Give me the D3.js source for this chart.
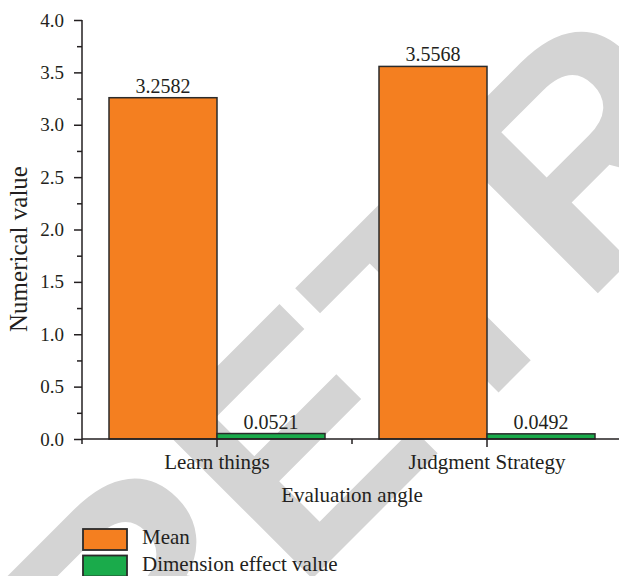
<!DOCTYPE html>
<html>
<head>
<meta charset="utf-8">
<script src="https://cdn.jsdelivr.net/npm/d3@7"></script>
<style>
  body { margin: 0; background: #fff; }
  svg text { font-family: "Liberation Serif", "Times New Roman", serif; fill: #231f20; }
</style>
</head>
<body>
<svg id="chart" width="619" height="576"></svg>
<script>
var categories = ["Learn things", "Judgment Strategy"];
var seriesNames = ["Mean", "Dimension effect value"];
var meanValues = [3.2582, 3.5568];
var effectValues = [0.0521, 0.0492];
var valueLabels = [["3.2582", "0.0521"], ["3.5568", "0.0492"]];
var yTicks = [0, 0.5, 1.0, 1.5, 2.0, 2.5, 3.0, 3.5, 4.0];
var yMinorTicks = [0.25, 0.75, 1.25, 1.75, 2.25, 2.75, 3.25, 3.75];
var colors = ["#f47f20", "#1aab4b"];

var svg = d3.select("#chart");
var plotLeft = 82, plotRight = 622, plotTop = 20, plotBottom = 439;

// watermark sits behind everything
svg.append("text")
  .attr("transform", "translate(136,755) rotate(-45)")
  .style("font-family", "'Liberation Sans', Arial, sans-serif")
  .style("font-weight", "bold")
  .style("font-size", "316px")
  .style("fill", "#d4d4d4")
  .text("RETRACTED");

var x = d3.scaleBand().domain(categories).range([plotLeft, plotRight]);
var xInner = d3.scaleBand().domain(seriesNames).range([0, x.bandwidth()]).paddingOuter(0.25);
var y = d3.scaleLinear().domain([0, 4]).range([plotBottom, plotTop]);

var rows = categories.map(function (c, i) {
  return { cat: c, values: [meanValues[i], effectValues[i]], labels: valueLabels[i] };
});

var groups = svg.selectAll("g.cat")
  .data(rows)
  .enter().append("g")
    .attr("class", "cat")
    .attr("transform", function (d) { return "translate(" + x(d.cat) + ",0)"; });

groups.selectAll("rect")
  .data(function (d) { return d.values.map(function (v, j) { return { s: seriesNames[j], v: v, j: j }; }); })
  .enter().append("rect")
    .attr("x", function (d) { return xInner(d.s); })
    .attr("y", function (d) { return y(d.v); })
    .attr("width", xInner.bandwidth())
    .attr("height", function (d) { return y(0) - y(d.v); })
    .attr("fill", function (d) { return colors[d.j]; })
    .attr("stroke", "#2b2b2b")
    .attr("stroke-width", 1.5);

groups.selectAll("text.val")
  .data(function (d) { return d.values.map(function (v, j) { return { s: seriesNames[j], v: v, t: d.labels[j] }; }); })
  .enter().append("text")
    .attr("class", "val")
    .attr("x", function (d) { return xInner(d.s) + xInner.bandwidth() / 2; })
    .attr("y", function (d) { return y(d.v) - 5; })
    .attr("text-anchor", "middle")
    .style("font-size", "20px")
    .text(function (d) { return d.t; });

// y axis
var gy = svg.append("g")
  .attr("transform", "translate(" + plotLeft + ",0)")
  .call(d3.axisLeft(y).tickValues(yTicks).tickFormat(d3.format(".1f")).tickSize(8).tickPadding(10));
gy.append("g")
  .call(d3.axisLeft(y).tickValues(yMinorTicks).tickSize(5).tickFormat(""))
  .select(".domain").remove();

// x axis
var centers = categories.map(function (c) { return x(c) + x.bandwidth() / 2; });
var edges = [plotLeft, plotLeft + x.bandwidth(), plotRight];
var gx = svg.append("g")
  .attr("transform", "translate(0," + plotBottom + ")");
gx.append("line")
  .attr("x1", plotLeft).attr("x2", plotRight)
  .attr("stroke", "#231f20").attr("stroke-width", 1.5);
gx.selectAll("line.major")
  .data(centers)
  .enter().append("line")
    .attr("x1", function (d) { return d; }).attr("x2", function (d) { return d; })
    .attr("y1", 0).attr("y2", 8)
    .attr("stroke", "#231f20").attr("stroke-width", 1.5);
gx.selectAll("line.minor")
  .data(edges)
  .enter().append("line")
    .attr("x1", function (d) { return d; }).attr("x2", function (d) { return d; })
    .attr("y1", 0).attr("y2", 5)
    .attr("stroke", "#231f20").attr("stroke-width", 1.5);
gx.selectAll("text.cat")
  .data(categories)
  .enter().append("text")
    .attr("x", function (d) { return x(d) + x.bandwidth() / 2; })
    .attr("y", 30)
    .attr("text-anchor", "middle")
    .style("font-size", "21px")
    .text(function (d) { return d; });

gy.selectAll("path, line").attr("stroke", "#231f20").attr("stroke-width", 1.5);
gy.selectAll(".domain").attr("d", "M0," + plotTop + "V" + plotBottom);
gy.selectAll("text").style("font-size", "19px").style("font-family", "'Liberation Serif', serif").attr("fill", "#231f20");

svg.append("text")
  .attr("x", (plotLeft + plotRight) / 2)
  .attr("y", 502)
  .attr("text-anchor", "middle")
  .style("font-size", "21px")
  .text("Evaluation angle");

svg.append("text")
  .attr("transform", "translate(27,249) rotate(-90)")
  .attr("text-anchor", "middle")
  .style("font-size", "25px")
  .text("Numerical value");

// legend
var legend = svg.selectAll("g.legend")
  .data(seriesNames)
  .enter().append("g")
    .attr("class", "legend")
    .attr("transform", function (d, i) { return "translate(83," + (529 + i * 26.5) + ")"; });
legend.append("rect")
  .attr("width", 44).attr("height", 21)
  .attr("fill", function (d, i) { return colors[i]; })
  .attr("stroke", "#2b2b2b").attr("stroke-width", 1.8);
legend.append("text")
  .attr("x", 59).attr("y", 15)
  .style("font-size", "21px")
  .text(function (d) { return d; });
</script>
</body>
</html>
